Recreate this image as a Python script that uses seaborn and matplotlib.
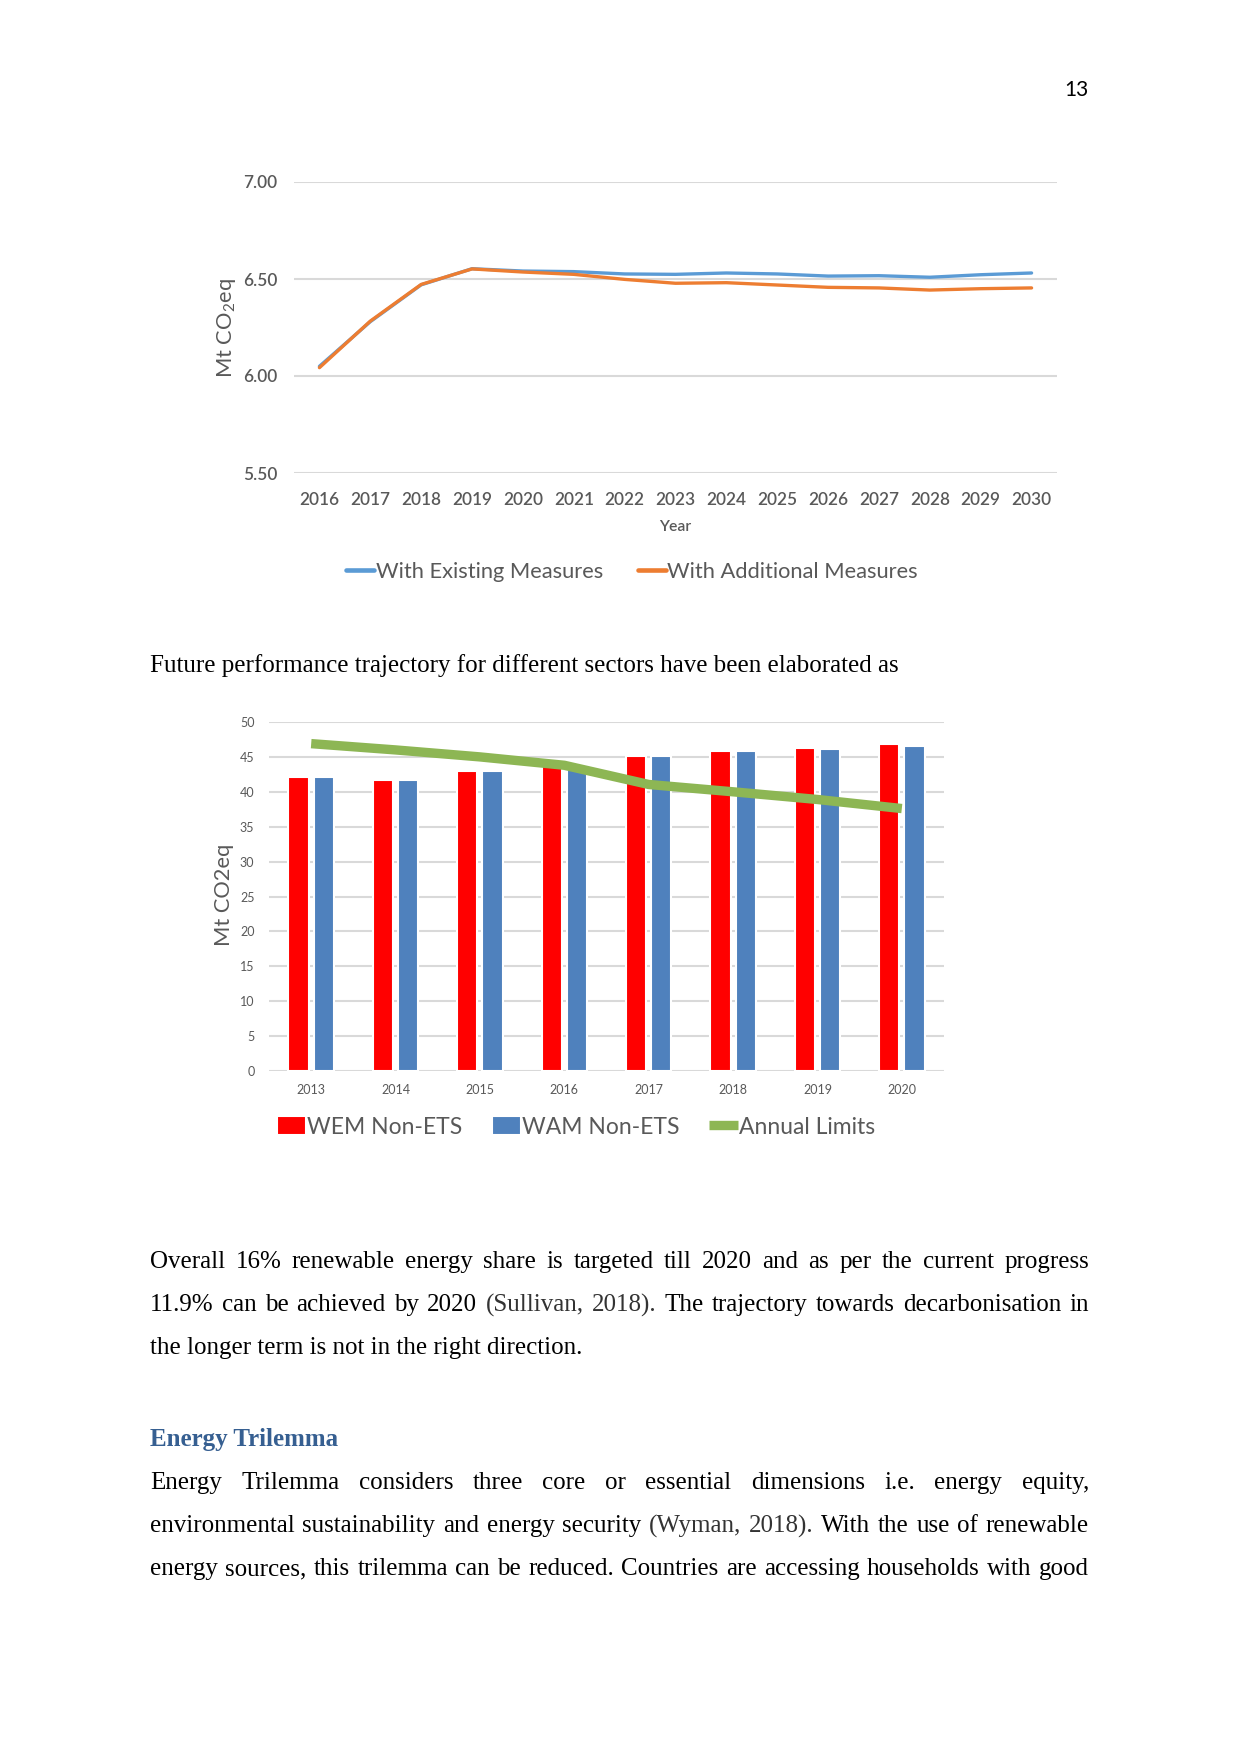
import numpy as np
import pandas as pd
import matplotlib
matplotlib.use("Agg")
import matplotlib.pyplot as plt
import seaborn as sns

# ---- data: top chart (Mt CO2eq projections)
years_top = [2016, 2017, 2018, 2019, 2020, 2021, 2022, 2023, 2024, 2025, 2026, 2027, 2028, 2029, 2030]
wem = [6.05, 6.28, 6.47, 6.553, 6.541, 6.538, 6.526, 6.524, 6.531, 6.526, 6.515, 6.517, 6.509, 6.522, 6.531]
wam = [6.043, 6.283, 6.472, 6.552, 6.536, 6.524, 6.498, 6.478, 6.481, 6.469, 6.457, 6.454, 6.443, 6.450, 6.454]
series_top = ["With Existing Measures", "With Additional Measures"]

# ---- data: bottom chart (non-ETS sectors)
years_bot = ["2013", "2014", "2015", "2016", "2017", "2018", "2019", "2020"]
wem_non_ets = [42.15, 41.7, 43.0, 43.7, 45.1, 45.9, 46.3, 46.8]
wam_non_ets = [42.15, 41.7, 43.05, 43.8, 45.1, 45.9, 46.2, 46.5]
annual_limits = [46.9, 46.0, 45.0, 43.8, 41.05, 40.0, 38.9, 37.6]
series_bot = ["WEM Non-ETS", "WAM Non-ETS", "Annual Limits"]

# ---- page text
future_line = "Future performance trajectory for different sectors have been elaborated as"
para1 = ["Overall 16% renewable energy share is targeted till 2020 and as per the current progress",
         "11.9% can be achieved by 2020 (Sullivan, 2018). The trajectory towards decarbonisation in",
         "the longer term is not in the right direction."]
heading = "Energy Trilemma"
para2 = ["Energy Trilemma considers three core or essential dimensions i.e. energy equity,",
         "environmental sustainability and energy security (Wyman, 2018). With the use of renewable",
         "energy sources, this trilemma can be reduced. Countries are accessing households with good"]
page_no = "13"

W, H = 1241, 1754
sns.set_theme(style="white")
plt.rcParams["font.family"] = ["Lato", "DejaVu Sans"]
plt.rcParams["mathtext.fontset"] = "custom"
plt.rcParams["mathtext.rm"] = "Lato"
GREY = "#595959"
GRID = "#D9D9D9"

fig = plt.figure(figsize=(W / 150, H / 150), dpi=150)
fig.patch.set_facecolor("white")

def fx(px): return px / W
def fy(px): return 1 - px / H

# ================= top chart
ax1 = fig.add_axes([fx(294), fy(473), fx(1057) - fx(294), fy(182) - fy(473)])
df_top = pd.DataFrame({"year": years_top * 2, "value": wem + wam,
                       "series": [series_top[0]] * len(wem) + [series_top[1]] * len(wam)})
sns.lineplot(data=df_top, x="year", y="value", hue="series", hue_order=series_top,
             palette=["#5B9BD5", "#ED7D31"], linewidth=1.6, ax=ax1)
ax1.set_xlim(2015.5, 2030.5)
ax1.set_ylim(5.5, 7.0)
ax1.set_yticks([5.5, 6.0, 6.5, 7.0])
ax1.set_yticklabels(["5.50", "6.00", "6.50", "7.00"])
ax1.set_xticks(years_top)
ax1.set_xticklabels([str(y) for y in years_top])
ax1.yaxis.grid(True, color=GRID, linewidth=1.0)
ax1.set_axisbelow(True)
for s in ax1.spines.values():
    s.set_visible(False)
ax1.tick_params(axis="both", length=0, labelsize=8.3, labelcolor=GREY)
ax1.tick_params(axis="y", pad=8)
ax1.tick_params(axis="x", pad=9)
for lab in ax1.get_xticklabels() + ax1.get_yticklabels():
    lab.set_fontweight("semibold")
ax1.set_xlabel("Year", fontsize=7.5, color=GREY, labelpad=6, fontweight="semibold")
ax1.set_ylabel("")
fig.text(fx(227), fy(328), r"Mt CO$_\mathrm{2}$eq", rotation=90, fontsize=10.5,
         color=GREY, ha="center", va="center")
sns.move_legend(ax1, loc="center", bbox_to_anchor=(fx(632), fy(572)),
                bbox_transform=fig.transFigure, ncol=2, frameon=False, title=None,
                fontsize=10.5, handlelength=1.3, handletextpad=0.05, columnspacing=1.6,
                labelcolor=GREY)
for ln in ax1.get_legend().get_lines():
    ln.set_linewidth(2.2)

# ================= bottom chart
ax2 = fig.add_axes([fx(269), fy(1071), fx(944) - fx(269), fy(722) - fy(1071)])
df_bot = pd.DataFrame({"year": years_bot * 2, "value": wem_non_ets + wam_non_ets,
                       "series": [series_bot[0]] * 8 + [series_bot[1]] * 8})
sns.barplot(data=df_bot, x="year", y="value", hue="series", hue_order=series_bot[:2],
            palette=["#FF0000", "#4F81BD"], width=0.6, gap=0.2, saturation=1,
            legend=False, ax=ax2)
sns.lineplot(x=np.arange(len(years_bot)), y=annual_limits, color="#8DB654",
             linewidth=4.5, solid_capstyle="butt", ax=ax2)
ax2.set_xlim(-0.5, len(years_bot) - 0.5)
ax2.set_ylim(0, 50)
ax2.set_yticks(range(0, 51, 5))
ax2.yaxis.grid(True, color=GRID, linewidth=1.0)
ax2.set_axisbelow(True)
for s in ax2.spines.values():
    s.set_visible(False)
ax2.tick_params(axis="both", length=0, labelsize=6, labelcolor=GREY)
ax2.tick_params(axis="y", pad=7)
ax2.tick_params(axis="x", pad=6)
ax2.set_xlabel("")
ax2.set_ylabel("")
fig.text(fx(224), fy(895), "Mt CO2eq", rotation=90, fontsize=10.5,
         color=GREY, ha="center", va="center")
handles = [ax2.containers[0], ax2.containers[1], ax2.lines[-1]]
leg2 = fig.legend(handles, series_bot, loc="center", bbox_to_anchor=(fx(576), fy(1127)),
                  ncol=3, frameon=False, fontsize=11, handlelength=1.25, handleheight=0.9,
                  handletextpad=0.05, columnspacing=1.3, labelcolor=GREY)

# ================= page text
SERIF = ["Liberation Serif", "DejaVu Serif"]
X0, X1 = 150, 1089
renderer = fig.canvas.get_renderer()

def text_line(line, y_px, justify=True, size=12):
    words = line.split()
    if not justify:
        fig.text(fx(X0), fy(y_px), line, fontsize=size, family=SERIF, color="black",
                 va="baseline", ha="left")
        return
    arts = [fig.text(0, 0, w, fontsize=size, family=SERIF, va="baseline",
                     color="#333333" if w.startswith(("(Sullivan", "(Wyman", "2018)")) else "black")
            for w in words]
    widths = [a.get_window_extent(renderer).width for a in arts]
    gap = (X1 - X0 - sum(widths)) / (len(words) - 1)
    x = X0
    for a, w in zip(arts, widths):
        a.set_position((fx(x), fy(y_px)))
        x += w + gap

fig.text(fx(1089), fy(96), page_no, fontsize=10, color="black", ha="right", va="baseline")
text_line(future_line, 672, justify=False)
for i, ln in enumerate(para1):
    text_line(ln, 1268 + i * 43.2, justify=(i < len(para1) - 1))
fig.text(fx(X0), fy(1446), heading, fontsize=12, family=SERIF, fontweight="bold",
         color="#365F91", va="baseline")
for i, ln in enumerate(para2):
    text_line(ln, 1489 + i * 43.2, justify=True)

fig.savefig("out.png", dpi=150, facecolor="white")
